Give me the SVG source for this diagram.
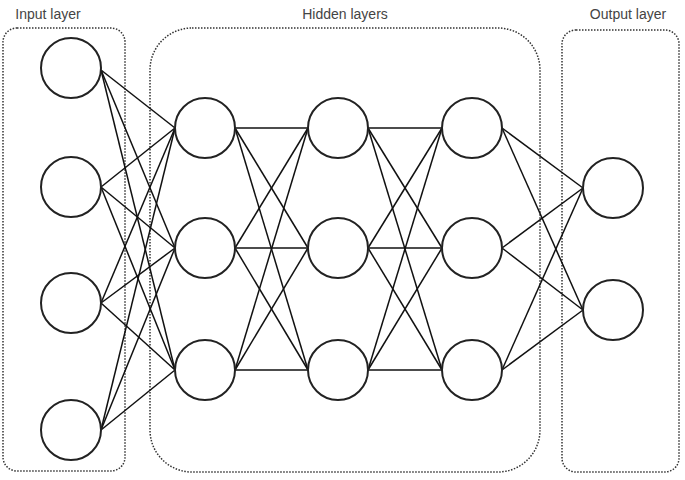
<svg xmlns="http://www.w3.org/2000/svg" width="685" height="480" viewBox="0 0 685 480">
<style>
.box{fill:none;stroke:#333;stroke-width:1.5;stroke-dasharray:1.5 1.5}
.n{fill:#fff;stroke:#222;stroke-width:2}
.e line{stroke:#111;stroke-width:1.5}
text{font-family:"Liberation Sans",Arial,sans-serif;font-size:14px;fill:#444;text-anchor:middle}
</style>
<rect x="0" y="0" width="685" height="480" fill="#fff"/>
<rect class="box" x="3" y="28" width="122" height="443" rx="14"/>
<rect class="box" x="150" y="28" width="390" height="444" rx="42"/>
<rect class="box" x="562" y="30" width="117" height="442" rx="14"/>
<text x="48" y="19">Input layer</text>
<text x="345" y="19">Hidden layers</text>
<text x="628" y="19">Output layer</text>
<g class="e">
<line x1="101" y1="70" x2="175" y2="128"/><line x1="101" y1="70" x2="175" y2="248"/><line x1="101" y1="70" x2="175" y2="370"/>
<line x1="101" y1="187" x2="175" y2="128"/><line x1="101" y1="187" x2="175" y2="248"/><line x1="101" y1="187" x2="175" y2="370"/>
<line x1="101" y1="303" x2="175" y2="128"/><line x1="101" y1="303" x2="175" y2="248"/><line x1="101" y1="303" x2="175" y2="370"/>
<line x1="101" y1="430" x2="175" y2="128"/><line x1="101" y1="430" x2="175" y2="248"/><line x1="101" y1="430" x2="175" y2="370"/>
<line x1="235" y1="128" x2="308" y2="128"/><line x1="235" y1="128" x2="308" y2="248"/><line x1="235" y1="128" x2="308" y2="370"/>
<line x1="235" y1="248" x2="308" y2="128"/><line x1="235" y1="248" x2="308" y2="248"/><line x1="235" y1="248" x2="308" y2="370"/>
<line x1="235" y1="370" x2="308" y2="128"/><line x1="235" y1="370" x2="308" y2="248"/><line x1="235" y1="370" x2="308" y2="370"/>
<line x1="368" y1="128" x2="442" y2="128"/><line x1="368" y1="128" x2="442" y2="248"/><line x1="368" y1="128" x2="442" y2="370"/>
<line x1="368" y1="248" x2="442" y2="128"/><line x1="368" y1="248" x2="442" y2="248"/><line x1="368" y1="248" x2="442" y2="370"/>
<line x1="368" y1="370" x2="442" y2="128"/><line x1="368" y1="370" x2="442" y2="248"/><line x1="368" y1="370" x2="442" y2="370"/>
<line x1="502" y1="128" x2="583" y2="188"/><line x1="502" y1="128" x2="583" y2="310"/>
<line x1="502" y1="248" x2="583" y2="188"/><line x1="502" y1="248" x2="583" y2="310"/>
<line x1="502" y1="370" x2="583" y2="188"/><line x1="502" y1="370" x2="583" y2="310"/>
</g>
<g id="i1"><circle class="n" cx="71" cy="68" r="30"/></g>
<g id="i2"><circle class="n" cx="71" cy="187" r="30"/></g>
<g id="i3"><circle class="n" cx="71" cy="303" r="30"/></g>
<g id="i4"><circle class="n" cx="71" cy="430" r="30"/></g>
<g id="h11"><circle class="n" cx="205" cy="128" r="30"/></g>
<g id="h12"><circle class="n" cx="205" cy="248" r="30"/></g>
<g id="h13"><circle class="n" cx="205" cy="370" r="30"/></g>
<g id="h21"><circle class="n" cx="338" cy="128" r="30"/></g>
<g id="h22"><circle class="n" cx="338" cy="248" r="30"/></g>
<g id="h23"><circle class="n" cx="338" cy="370" r="30"/></g>
<g id="h31"><circle class="n" cx="472" cy="128" r="30"/></g>
<g id="h32"><circle class="n" cx="472" cy="248" r="30"/></g>
<g id="h33"><circle class="n" cx="472" cy="370" r="30"/></g>
<g id="o1"><circle class="n" cx="613" cy="188" r="30"/></g>
<g id="o2"><circle class="n" cx="613" cy="310" r="30"/></g>
</svg>
